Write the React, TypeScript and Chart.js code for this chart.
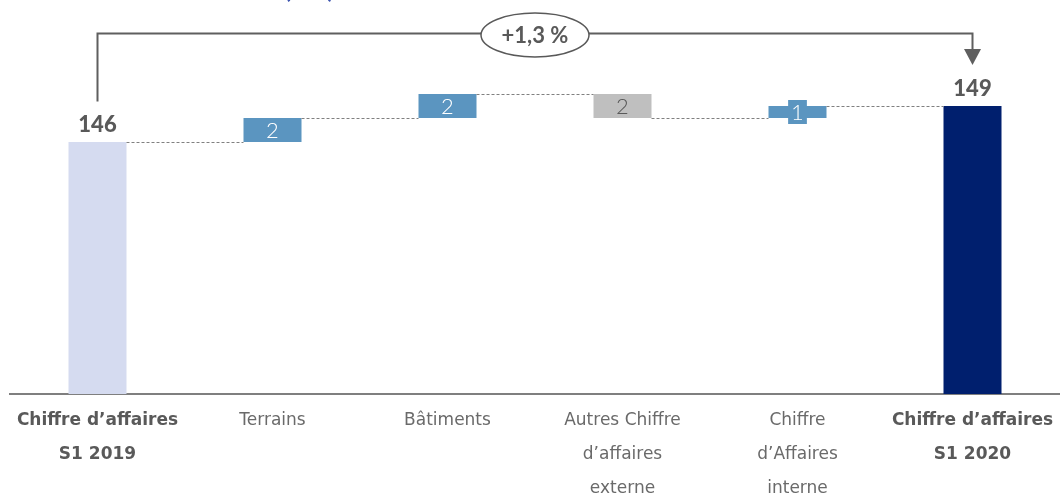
import React, { useEffect, useRef } from "react";
import { Chart, registerables } from "chart.js";

Chart.register(...registerables);

const categories: (string | string[])[] = [
  ["Chiffre d’affaires", "S1 2019"],
  "Terrains",
  "Bâtiments",
  ["Autres Chiffre", "d’affaires", "externe"],
  ["Chiffre", "d’Affaires", "interne"],
  ["Chiffre d’affaires", "S1 2020"],
];
const startValue = 146;
const deltas = [2, 2, -2, 1];
const endValue = 149;
const valueLabels = ["146", "2", "2", "2", "1", "149"];
const barColors = ["#d5dbf0", "#5b95c0", "#5b95c0", "#bfbfbf", "#5b95c0", "#001f6e"];
const labelColors = ["#595959", "#ffffff", "#ffffff", "#595959", "#ffffff", "#595959"];
const axisMin = 125;
const axisMax = 150;
const growthLabel = "+1,3 %";
const titleText = "Chiffre d’affaires (M€)";

// build floating bars + levels
const bars: [number, number][] = [];
const levels: number[] = [];
{
  let cur = startValue;
  bars.push([axisMin, startValue]);
  levels.push(cur);
  for (const d of deltas) {
    bars.push([cur, cur + d]);
    cur += d;
    levels.push(cur);
  }
  bars.push([axisMin, endValue]);
  levels.push(endValue);
}
const isTotal = (i: number) => i === 0 || i === categories.length - 1;

const FONT = "'Lato', 'DejaVu Sans', sans-serif";
const TICK_FONT = "'DejaVu Sans', sans-serif";

const waterfallPlugin = {
  id: "waterfall",
  beforeDraw(chart: any) {
    const ctx = chart.ctx;
    ctx.save();
    ctx.fillStyle = "#3f56b0";
    ctx.font = `bold 24px ${FONT}`;
    ctx.textAlign = "right";
    ctx.textBaseline = "alphabetic";
    ctx.fillText(titleText, 334, -2);
    ctx.restore();
  },
  afterDatasetsDraw(chart: any) {
    const ctx = chart.ctx;
    const meta = chart.getDatasetMeta(0);
    const y = chart.scales.y;
    const els = meta.data;
    // connectors
    ctx.save();
    ctx.strokeStyle = "#808080";
    ctx.lineWidth = 1;
    ctx.setLineDash([3, 2]);
    ctx.beginPath();
    for (let i = 0; i < els.length - 1; i++) {
      const a = els[i];
      const b = els[i + 1];
      const yy = Math.round(y.getPixelForValue(levels[i])) + 0.5;
      ctx.moveTo(a.x + a.width / 2, yy);
      ctx.lineTo(b.x - b.width / 2, yy);
    }
    ctx.stroke();
    ctx.restore();

    // labels
    ctx.save();
    ctx.textAlign = "center";
    ctx.textBaseline = "middle";
    for (let i = 0; i < els.length; i++) {
      const el = els[i];
      if (isTotal(i)) {
        ctx.font = `900 22px ${FONT}`;
        ctx.fillStyle = labelColors[i];
        ctx.fillText(valueLabels[i], el.x, y.getPixelForValue(bars[i][1]) - 17);
      } else {
        ctx.font = `300 22px ${FONT}`;
        const cy = (y.getPixelForValue(bars[i][0]) + y.getPixelForValue(bars[i][1])) / 2;
        const w = ctx.measureText(valueLabels[i]).width + 6;
        ctx.fillStyle = barColors[i];
        ctx.fillRect(el.x - w / 2, cy - 12, w, 24);
        ctx.fillStyle = labelColors[i];
        ctx.fillText(valueLabels[i], el.x, cy + 1);
      }
    }
    ctx.restore();

    // bracket
    const x0 = els[0].x;
    const x5 = els[els.length - 1].x;
    const top = 33.5;
    ctx.save();
    ctx.strokeStyle = "#5f5f5f";
    ctx.lineWidth = 2;
    ctx.beginPath();
    ctx.moveTo(x0, 101.5);
    ctx.lineTo(x0, top);
    ctx.lineTo(x5, top);
    ctx.lineTo(x5, 51);
    ctx.stroke();
    ctx.fillStyle = "#5f5f5f";
    ctx.beginPath();
    ctx.moveTo(x5 - 8.5, 49);
    ctx.lineTo(x5 + 8.5, 49);
    ctx.lineTo(x5, 65);
    ctx.closePath();
    ctx.fill();
    const cx = (x0 + x5) / 2;
    ctx.beginPath();
    ctx.ellipse(cx, 35, 54, 22, 0, 0, Math.PI * 2);
    ctx.fillStyle = "#ffffff";
    ctx.fill();
    ctx.lineWidth = 1.5;
    ctx.strokeStyle = "#595959";
    ctx.stroke();
    ctx.fillStyle = "#595959";
    ctx.font = `bold 22px ${FONT}`;
    ctx.textAlign = "center";
    ctx.textBaseline = "middle";
    ctx.fillText(growthLabel, cx, 36);
    ctx.restore();
  },
};

export default function App() {
  const ref = useRef<HTMLCanvasElement | null>(null);
  useEffect(() => {
    if (!ref.current) return;
    const chart = new Chart(ref.current, {
      type: "bar",
      data: {
        labels: categories as any,
        datasets: [
          {
            data: bars as any,
            backgroundColor: barColors,
            borderWidth: 0,
            categoryPercentage: 1,
            barPercentage: 58 / 175,
          },
        ],
      },
      options: {
        responsive: false,
        animation: false,
        layout: { padding: { left: 10, right: 0, top: 94, bottom: 0 } },
        plugins: { legend: { display: false }, tooltip: { enabled: false }, title: { display: false } },
        scales: {
          x: {
            grid: { display: false },
            border: { color: "#7f7f7f", width: 2 },
            ticks: {
              padding: 2,
              color: (c: any) => (c.index === 0 || c.index === categories.length - 1 ? "#595959" : "#6a6a6a"),
              font: (c: any) => ({
                family: TICK_FONT,
                size: 17,
                lineHeight: 34 / 17,
                weight: c.index === 0 || c.index === categories.length - 1 ? "bold" : "normal",
              }),
              maxRotation: 0,
              autoSkip: false,
            },
            afterFit: (s: any) => {
              s.height = 102;
            },
          },
          y: { display: false, min: axisMin, max: axisMax },
        },
      },
      plugins: [waterfallPlugin],
    });
    return () => chart.destroy();
  }, []);
  return (
    <div style={{ position: "absolute", left: 0, top: 0, width: 1060, height: 496 }}>
      <canvas ref={ref} width={1060} height={496} />
    </div>
  );
}
